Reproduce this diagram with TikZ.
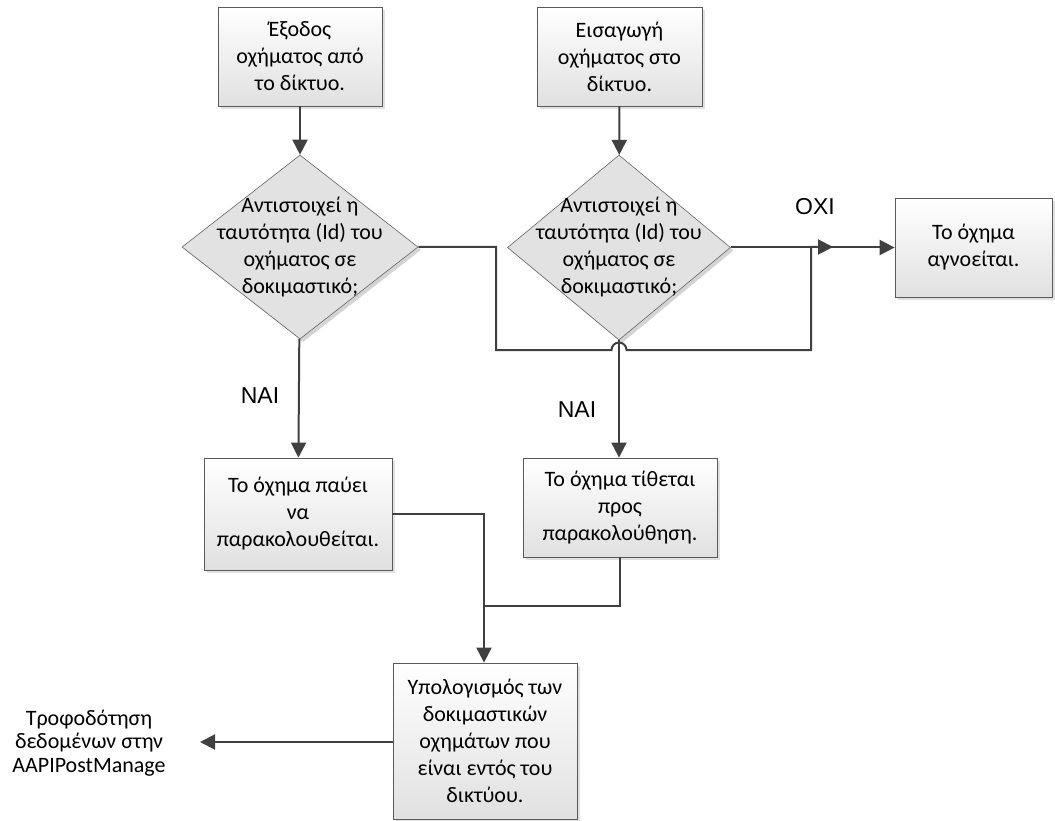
\documentclass[tikz,border=0pt]{standalone}
\usepackage{fontspec}
\setmainfont{Carlito}
\newfontfamily\answerfont{Liberation Sans}
\usetikzlibrary{shapes.geometric,arrows.meta,shadows}

\definecolor{linegray}{HTML}{404040}
\definecolor{edgegray}{HTML}{5A5A5A}
\definecolor{diafill}{HTML}{E2E2E2}
\definecolor{shadowgray}{HTML}{D4D4D4}

\begin{document}
\begin{tikzpicture}[x=1pt,y=-1pt,
  txt/.style={align=center,font=\fontsize{22}{27}\selectfont},
  softshadow/.style={drop shadow={shadow xshift=3pt,shadow yshift=-3pt,fill=black!20,opacity=0.6}},
  procbox/.style={txt,draw=edgegray,line width=0.8pt,top color=white,bottom color=black!12,
    softshadow,inner sep=0pt},
  decision/.style={diamond,draw=black!60,line width=0.6pt,fill=diafill,inner sep=0pt,
    preaction={draw=none,fill=shadowgray,transform canvas={xshift=3pt,yshift=-3pt}}},
  answer/.style={font=\answerfont\fontsize{23}{27}\selectfont},
  wire/.style={draw=linegray,line width=2pt},
  flow/.style={wire,-{Triangle[length=15pt,width=15pt]}},
]
\useasboundingbox (0,0) rectangle (1055,821);

% process boxes
\node[procbox,minimum width=164pt,minimum height=99pt] (exit) at (300,56.5)
  {Έξοδος\\οχήματος από\\το δίκτυο.};
\node[procbox,minimum width=165pt,minimum height=99pt] (enter) at (619.5,56.5)
  {Εισαγωγή\\οχήματος στο\\δίκτυο.};
\node[procbox,minimum width=157pt,minimum height=99pt] (ignore) at (973.5,247.5)
  {Το όχημα\\αγνοείται.};
\node[procbox,minimum width=188pt,minimum height=112pt] (stop) at (298,514)
  {Το όχημα παύει\\να\\παρακολουθείται.};
\node[procbox,minimum width=194pt,minimum height=99pt] (track) at (620,507.5)
  {Το όχημα τίθεται\\προς\\παρακολούθηση.};
\node[procbox,minimum width=184pt,minimum height=156pt] (count) at (485,741)
  {Υπολογισμός των\\δοκιμαστικών\\οχημάτων που\\είναι εντός του\\δικτύου.};

% decisions
\node[decision,minimum width=236pt,minimum height=184pt] (q1) at (300,247) {};
\node[txt] at (q1) {Αντιστοιχεί η\\ταυτότητα (Id) του\\οχήματος σε\\δοκιμαστικό;};
\node[decision,minimum width=223pt,minimum height=185pt] (q2) at (619,247.5) {};
\node[txt] at (q2) {Αντιστοιχεί η\\ταυτότητα (Id) του\\οχήματος σε\\δοκιμαστικό;};

% free text and answers
\node[align=center,font=\fontsize{22}{23.5}\selectfont] (feedtxt) at (89,743)
  {Τροφοδότηση\\δεδομένων στην\\AAPIPostManage};
\node[answer] (yes1) at (260,396) {ΝΑΙ};
\node[answer] (yes2) at (577,410) {ΝΑΙ};
\node[answer] (no) at (815,207) {ΟΧΙ};

\coordinate (loopend) at (833,247);
\coordinate (merge) at (484,606);
\coordinate (feed) at (200,742);

% connectors
\draw[flow] (exit) -- (q1);
\draw[flow] (enter) -- (q2);
\draw[flow] (q1) -- (stop);
\draw[flow] (q2) -- (track.north -| q2);
\draw[flow] (q2.east) -- (ignore.west);
\draw[flow] (q1.east) -- (496,247) -- (496,350) -- (611.5,350)
  arc[start angle=180,end angle=0,radius=7.5pt] -- (811,350) -- (811,247) -- (loopend);
\draw[wire] (stop.east) -| (merge);
\draw[wire] (track.south) |- (merge);
\draw[flow] (merge) -- (count.north -| merge);
\draw[flow] (count.west |- feed) -- (feed);
\end{tikzpicture}
\end{document}
